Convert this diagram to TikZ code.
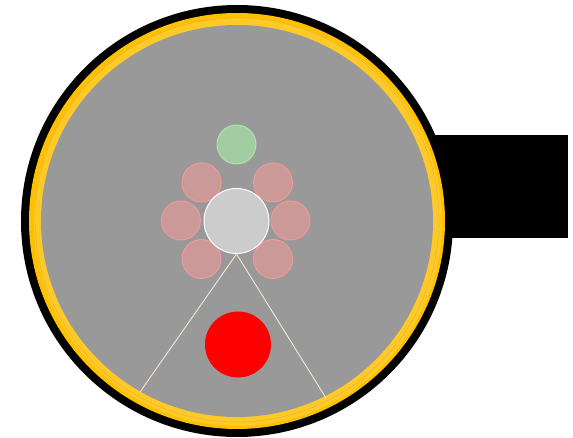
\documentclass[tikz,border=0pt]{standalone}
\begin{document}
\begin{tikzpicture}[x=1pt,y=-1pt,
  dot/.style={circle,inner sep=0pt,minimum size=39pt,line width=0.9pt},
  pinkdot/.style={dot,fill=pinkfill,draw=pinkedge},
  ray/.style={draw=raycol,line width=0.9pt}]
\definecolor{ringyellow}{HTML}{FFC000}
\definecolor{ringyellowlight}{HTML}{FFCA28}
\definecolor{diskgray}{HTML}{999999}
\definecolor{pinkfill}{HTML}{CC9999}
\definecolor{pinkedge}{HTML}{F39A9A}
\definecolor{greenfill}{HTML}{A2CCA2}
\definecolor{greenedge}{HTML}{ADE8A5}
\definecolor{centerfill}{HTML}{CCCCCC}
\definecolor{raycol}{HTML}{F2E8DA}
\useasboundingbox (0,0) rectangle (573,438);
% handle
\fill[black] (400,135) rectangle (568,238);
% rings
\fill[black] (237,221) circle[radius=216];
\fill[ringyellow] (237,221) circle[radius=208];
\fill[ringyellowlight] (238,222) circle[radius=204];
\draw[diskgray!35!ringyellow,line width=0.4pt] (237,220) circle[radius=202];
\fill[diskgray] (237,221) circle[radius=196];
% small circles
\node[dot,fill=greenfill,draw=greenedge] (g) at (236.5,144.5) {};
\node[pinkdot] (p1) at (201.5,182.5) {};
\node[pinkdot] (p2) at (273,182.5) {};
\node[pinkdot] (p3) at (181,220.5) {};
\node[pinkdot] (p4) at (290.5,220.5) {};
\node[pinkdot] (p5) at (201.5,259) {};
\node[pinkdot] (p6) at (273,259) {};
\node[circle,inner sep=0pt,minimum size=65pt,fill=centerfill,draw=white,line width=1pt] (c) at (236.5,221) {};
% rays
\coordinate (l) at (140,392);
\coordinate (r) at (326,398);
\draw[ray] (l) -- (c.south) -- (r);
% red dot
\node[circle,inner sep=0pt,minimum size=66pt,fill=red] (red) at (238,344.5) {};
\end{tikzpicture}
\end{document}
